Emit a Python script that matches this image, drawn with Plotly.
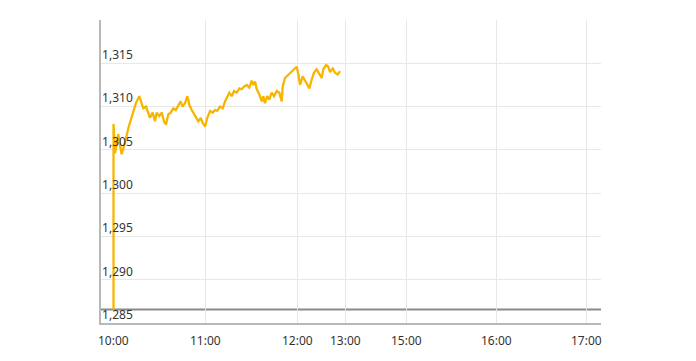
import plotly.graph_objects as go

# minutes on the chart's time axis (0 = 10:00) and price
minutes = [-0.3, -0.3, 0.7, 2.8, 5.0, 7.2, 9.4, 12.7, 14.4, 16.6, 18.2, 19.2, 21.0, 22.5,
           23.6, 25.4, 26.9, 28.0, 29.7, 31.3, 32.8, 34.1, 35.6, 37.2, 38.9, 40.5, 42.2,
           43.7, 45.0, 46.6, 48.1, 49.4, 51.0, 52.5, 53.8, 55.3, 56.9, 58.2, 59.7, 61.2,
           63.0, 64.7, 66.2, 67.7, 69.5, 71.3, 72.8, 74.3, 75.6, 77.2, 78.7, 80.5, 82.2,
           83.7, 85.2, 87.0, 88.7, 90.3, 91.3, 92.5, 93.6, 95.3, 96.9, 97.9, 99.0, 100.5,
           101.8, 103.4, 104.9, 106.7, 108.4, 110.0, 110.6, 112.1, 114.3, 116.5, 118.7,
           119.8, 120.9, 122.0, 123.7, 125.2, 126.8, 128.1, 129.6, 131.1, 132.9, 134.6,
           136.2, 137.2, 139.0, 140.5, 141.6, 143.4, 144.9, 146.7, 148.2]
prices = [1286.55, 1308.0, 1304.6, 1306.8, 1304.5, 1305.8, 1307.5, 1309.6, 1310.4, 1311.2,
          1310.4, 1309.8, 1310.0, 1309.2, 1308.7, 1309.3, 1308.3, 1309.3, 1308.9, 1309.3,
          1308.3, 1307.9, 1309.1, 1309.3, 1309.8, 1309.6, 1310.2, 1310.6, 1310.0, 1310.4,
          1311.2, 1310.2, 1309.6, 1309.2, 1308.7, 1308.3, 1308.7, 1308.1, 1307.7, 1308.7,
          1309.5, 1309.3, 1309.6, 1309.5, 1310.0, 1309.8, 1310.6, 1311.2, 1311.6, 1311.2,
          1311.8, 1311.6, 1312.1, 1312.0, 1312.3, 1312.5, 1312.2, 1313.0, 1312.5, 1312.9,
          1312.0, 1311.4, 1310.6, 1311.2, 1310.4, 1311.2, 1310.8, 1311.6, 1311.2, 1311.8,
          1311.6, 1310.6, 1312.3, 1313.3, 1313.7, 1314.1, 1314.4, 1314.6, 1313.7, 1312.5,
          1313.5, 1313.0, 1312.5, 1312.1, 1313.1, 1313.9, 1314.3, 1313.7, 1313.3, 1314.3,
          1314.8, 1314.6, 1314.0, 1314.4, 1313.9, 1313.7, 1314.1]
prev_close = 1286.55

tick_labels = ["10:00", "11:00", "12:00", "13:00", "15:00", "16:00", "17:00"]
tick_minutes = [0, 60, 120, 152, 191.5, 250.5, 310]
y_ticks = [1285, 1290, 1295, 1300, 1305, 1310, 1315]

fig = go.Figure()
fig.add_trace(go.Scatter(x=minutes, y=prices, mode="lines",
                         line=dict(color="#F7B500", width=2.3), hoverinfo="skip"))

fig.add_shape(type="line", xref="paper", x0=0, x1=1, yref="y", y0=prev_close, y1=prev_close,
              line=dict(color="#8a8a8a", width=2), layer="below")

for pos, lab in zip(tick_minutes, tick_labels):
    fig.add_annotation(x=pos, xref="x", y=0, yref="paper", text=lab, showarrow=False,
                       xanchor="center", yanchor="middle", yshift=-17,
                       font=dict(family="Noto Sans", size=12, color="#333333"))

fig.update_layout(
    width=696, height=361,
    margin=dict(l=101, r=95, t=20, b=38),
    paper_bgcolor="white", plot_bgcolor="white",
    showlegend=False,
    font=dict(family="Noto Sans", size=12, color="#333333"),
    xaxis=dict(range=[-8.5, 319.3], tickvals=tick_minutes, showticklabels=False,
               showgrid=True, gridcolor="#e8e8e8", gridwidth=1,
               showline=True, linecolor="#b8b8b8", linewidth=1.5,
               ticks="", zeroline=False),
    yaxis=dict(range=[1285, 1320], tickvals=y_ticks, tickformat=",d",
               showgrid=True, gridcolor="#e8e8e8", gridwidth=1,
               showline=True, linecolor="#b8b8b8", linewidth=1.5,
               ticks="", ticklabelposition="inside top", zeroline=False,
               tickfont=dict(size=12, color="#333333")),
)

fig.write_html("out.html")
